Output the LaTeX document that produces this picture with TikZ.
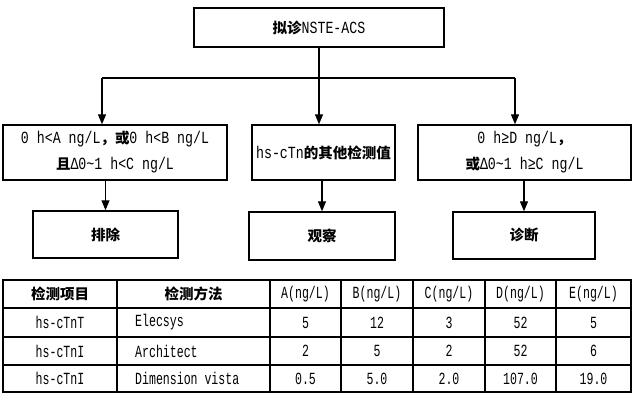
\documentclass[tikz,border=0pt]{standalone}
\usepackage{fontspec}
\setmainfont{Liberation Mono}
\newfontfamily\cjkf{Noto Sans CJK SC}
\newfontfamily\flowlat{Liberation Mono}[FakeStretch=0.78]
\newfontfamily\tablat{Liberation Mono}[FakeStretch=0.68]
\usetikzlibrary{arrows.meta}
\tikzset{
  box/.style={draw=black, line width=1.4pt, inner sep=0pt, align=center},
  arr/.style={line width=1.2pt, -{Triangle[length=10pt,width=8pt]}},
  conn/.style={line width=1.2pt},
  cell/.style={inner sep=0pt, anchor=center},
  grid/.style={line width=1.2pt},
}
\newcommand{\ck}[1]{{\fontsize{14.5}{25}\selectfont\cjkf\bfseries #1}}
\newcommand{\fl}[1]{{\fontsize{17}{25}\selectfont\flowlat #1}}
\newcommand{\tl}[1]{{\fontsize{17}{25}\selectfont\tablat #1}}
\begin{document}
\begin{tikzpicture}[x=1pt,y=-1pt]
\useasboundingbox (0,0) rectangle (640,402);
\fontsize{15}{25}\selectfont
% flowchart
\node[box, minimum width=250pt, minimum height=39pt] (top) at (319,27.5) {\ck{拟诊}\fl{NSTE-ACS}};
\node[box, minimum width=224pt, minimum height=55pt] (L) at (115,152.5)
  {\fl{0 h<A ng/L}\ck{，或}\fl{0 h<B ng/L}\\[1pt]\ck{且}\fl{Δ0\char`\~1 h<C ng/L}};
\node[box, minimum width=143pt, minimum height=55pt] (M) at (323.5,152.5)
  {\fl{hs-cTn}\ck{的其他检测值}};
\node[box, minimum width=213pt, minimum height=55pt] (R) at (524.5,152.5)
  {\fl{0 h≥D ng/L}\ck{，}\\[1pt]\ck{或}\fl{Δ0\char`\~1 h≥C ng/L}};
\node[box, minimum width=145pt, minimum height=47pt] (BL) at (105.5,234.5) {\ck{排除}};
\node[box, minimum width=146pt, minimum height=48pt] (BM) at (322,236) {\ck{观察}};
\node[box, minimum width=142pt, minimum height=47pt] (BR) at (524,235.5) {\ck{诊断}};
\coordinate (jl) at (102,78);
\coordinate (jr) at (515,78);
\draw[conn] (jl) -- (jr);
\draw[arr] (top.south) -- (top.south |- M.north);
\draw[arr] (jl) -- (jl |- L.north);
\draw[arr] (jr) -- (jr |- R.north);
\draw[arr] (L.south -| BL.north) -- (BL.north);
\draw[arr] (M.south -| BM.north) -- (BM.north);
\draw[arr] (R.south -| BR.north) -- (BR.north);
% table
\draw[line width=1.4pt] (3,280) rectangle (631,392);
\foreach \yy in {308,337,365} \draw[grid] (3,\yy) -- (631,\yy);
\foreach \xx in {117,270,341,413,485,556} \draw[grid] (\xx,280) -- (\xx,392);
\node[cell] (h1) at (60,294) {\ck{检测项目}};
\node[cell] (h2) at (193.5,294) {\ck{检测方法}};
\node[cell] (h3) at (305.5,294) {\tl{A(ng/L)}};
\node[cell] (h4) at (377,294) {\tl{B(ng/L)}};
\node[cell] (h5) at (449,294) {\tl{C(ng/L)}};
\node[cell] (h6) at (520.5,294) {\tl{D(ng/L)}};
\node[cell] (h7) at (593.5,294) {\tl{E(ng/L)}};
\node[cell] (a1) at (60,322.5) {\tl{hs-cTnT}};
\node[cell, anchor=west] (a2) at (135,322.5) {\tl{Elecsys}};
\node[cell] (a3) at (305.5,322.5) {\tl{5}};
\node[cell] (a4) at (377,322.5) {\tl{12}};
\node[cell] (a5) at (449,322.5) {\tl{3}};
\node[cell] (a6) at (520.5,322.5) {\tl{52}};
\node[cell] (a7) at (593.5,322.5) {\tl{5}};
\node[cell] (b1) at (60,351) {\tl{hs-cTnI}};
\node[cell, anchor=west] (b2) at (135,351) {\tl{Architect}};
\node[cell] (b3) at (305.5,351) {\tl{2}};
\node[cell] (b4) at (377,351) {\tl{5}};
\node[cell] (b5) at (449,351) {\tl{2}};
\node[cell] (b6) at (520.5,351) {\tl{52}};
\node[cell] (b7) at (593.5,351) {\tl{6}};
\node[cell] (c1) at (60,378.5) {\tl{hs-cTnI}};
\node[cell, anchor=west] (c2) at (135,378.5) {\tl{Dimension vista}};
\node[cell] (c3) at (305.5,378.5) {\tl{0.5}};
\node[cell] (c4) at (377,378.5) {\tl{5.0}};
\node[cell] (c5) at (449,378.5) {\tl{2.0}};
\node[cell] (c6) at (520.5,378.5) {\tl{107.0}};
\node[cell] (c7) at (593.5,378.5) {\tl{19.0}};
\end{tikzpicture}
\end{document}
